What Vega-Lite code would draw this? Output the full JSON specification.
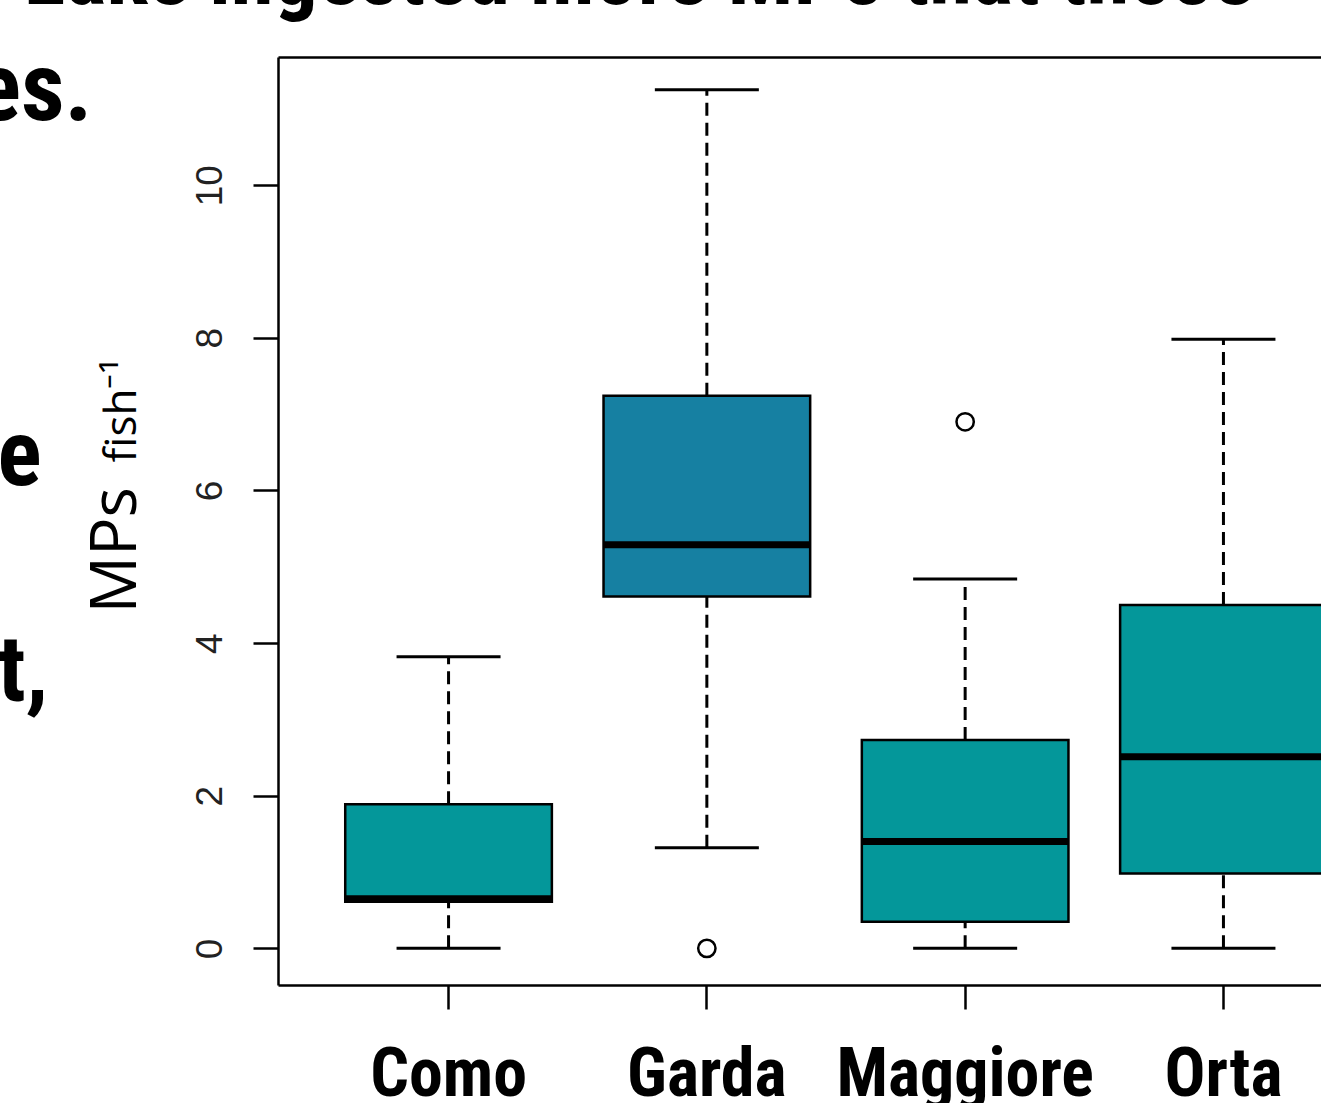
{
  "$schema": "https://vega.github.io/schema/vega-lite/v6.json",
  "autosize": {"type": "none"},
  "padding": {"left": 278, "top": 57, "right": 0, "bottom": 118},
  "width": 1043,
  "height": 928,
  "background": "white",
  "config": {"view": {"stroke": null}},
  "title": {
    "text": "r Lake ingested more MPs that those",
    "subtitle": "\u00a0es.",
    "anchor": "start",
    "frame": "group",
    "orient": "top",
    "offset": 0,
    "subtitlePadding": 22,
    "dx": -303,
    "dy": 83,
    "font": "Liberation Sans Narrow, Roboto Condensed, DejaVu Sans Condensed, Liberation Sans",
    "fontSize": 87,
    "fontWeight": "bold",
    "color": "black",
    "subtitleFont": "Liberation Sans Narrow, Roboto Condensed, DejaVu Sans Condensed, Liberation Sans",
    "subtitleFontSize": 96,
    "subtitleFontWeight": "bold",
    "subtitleColor": "black"
  },
  "datasets": {
    "boxes": [
      {"lake": "Como", "lo": 0, "q1": 0.61, "median": 0.65, "q3": 1.89, "hi": 3.82},
      {"lake": "Garda", "lo": 1.32, "q1": 4.61, "median": 5.29, "q3": 7.24, "hi": 11.25},
      {"lake": "Maggiore", "lo": 0, "q1": 0.35, "median": 1.4, "q3": 2.73, "hi": 4.84},
      {"lake": "Orta", "lo": 0, "q1": 0.98, "median": 2.51, "q3": 4.5, "hi": 7.98}
    ],
    "outliers": [
      {"lake": "Garda", "value": 0},
      {"lake": "Maggiore", "value": 6.9}
    ]
  },
  "layer": [
    {
      "data": {"name": "boxes"},
      "encoding": {
        "x": {
          "field": "lake",
          "type": "nominal",
          "scale": {"domain": ["Como", "Garda", "Maggiore", "Orta"], "range": [0, 1116], "paddingInner": 0.2, "paddingOuter": 0.2603},
          "axis": {
            "orient": "bottom",
            "title": ["e", "t,"],
            "titleFont": "Liberation Sans Narrow, Roboto Condensed, DejaVu Sans Condensed, Liberation Sans",
            "titleFontSize": 92,
            "titleFontWeight": "bold",
            "titleColor": "black",
            "titleX": -281,
            "titleY": -501,
            "titleAlign": "left",
            "titleAngle": 0,
            "titleBaseline": "alphabetic",
            "titleLineHeight": 216,
            "labelAngle": 0,
            "labelFont": "Liberation Sans Narrow, Roboto Condensed, DejaVu Sans Condensed, Liberation Sans",
            "labelFontSize": 68,
            "labelFontWeight": "bold",
            "labelColor": "black",
            "labelBaseline": "alphabetic",
            "labelPadding": 86,
            "labelLimit": 0,
            "labelOverlap": false,
            "tickSize": 24,
            "tickWidth": 2.5,
            "tickColor": "black",
            "domainColor": "black",
            "domainWidth": 2.5,
            "grid": false
          }
        }
      },
      "layer": [
        {
          "mark": {"type": "rule", "strokeDash": [13, 7], "strokeWidth": 3, "color": "black"},
          "encoding": {
            "y": {
              "field": "lo",
              "type": "quantitative",
              "scale": {"domain": [-0.48, 11.68], "nice": false, "zero": false},
              "axis": {
                "orient": "left",
                "title": "MPs",
                "titleFont": "Open Sans",
                "titleFontSize": 64,
                "titleFontWeight": "normal",
                "titleColor": "black",
                "titleAngle": -90,
                "titleX": -143,
                "titleY": 556,
                "titleAlign": "left",
                "titleBaseline": "alphabetic",
                "values": [0, 2, 4, 6, 8, 10],
                "format": "d",
                "labelAngle": -90,
                "labelAlign": "center",
                "labelBaseline": "alphabetic",
                "labelFont": "Liberation Sans",
                "labelFontSize": 37,
                "labelColor": "#222222",
                "labelPadding": 32,
                "tickSize": 25,
                "tickWidth": 2.5,
                "tickColor": "black",
                "domainColor": "black",
                "domainWidth": 2.5,
                "grid": false
              }
            },
            "y2": {"field": "q1"}
          }
        },
        {
          "mark": {"type": "rule", "strokeDash": [13, 7], "strokeWidth": 3, "color": "black"},
          "encoding": {
            "y": {"field": "q3", "type": "quantitative"},
            "y2": {"field": "hi"}
          }
        },
        {
          "mark": {"type": "bar", "stroke": "black", "strokeWidth": 2.5, "clip": true},
          "encoding": {
            "y": {"field": "q1", "type": "quantitative"},
            "y2": {"field": "q3"},
            "color": {
              "field": "lake",
              "type": "nominal",
              "scale": {"domain": ["Como", "Garda", "Maggiore", "Orta"], "range": ["#04979a", "#1680a2", "#04979a", "#04979a"]},
              "legend": null
            }
          }
        },
        {
          "mark": {"type": "tick", "thickness": 7, "size": 207, "color": "black", "opacity": 1, "clip": true},
          "encoding": {"y": {"field": "median", "type": "quantitative"}}
        },
        {
          "mark": {"type": "tick", "thickness": 3, "size": 104, "color": "black", "opacity": 1},
          "encoding": {"y": {"field": "lo", "type": "quantitative"}}
        },
        {
          "mark": {"type": "tick", "thickness": 3, "size": 104, "color": "black", "opacity": 1},
          "encoding": {"y": {"field": "hi", "type": "quantitative"}}
        },
        {
          "data": {"name": "outliers"},
          "mark": {"type": "point", "shape": "circle", "size": 300, "filled": false, "stroke": "black", "strokeWidth": 2.5, "opacity": 1},
          "encoding": {
            "y": {"field": "value", "type": "quantitative"}
          }
        }
      ]
    },
    {
      "data": {"name": "boxes"},
      "mark": {"type": "rule", "opacity": 0, "strokeWidth": 0},
      "encoding": {
        "x": {
          "field": "lake",
          "type": "nominal",
          "scale": {"domain": ["Como", "Garda", "Maggiore", "Orta"], "range": [0, 1116], "paddingInner": 0.2, "paddingOuter": 0.2603},
          "axis": {
            "orient": "top",
            "labels": false,
            "ticks": false,
            "grid": false,
            "domain": true,
            "domainColor": "black",
            "domainWidth": 2.5,
            "title": "fish\u207b\u00b9",
            "titleFont": "Open Sans",
            "titleFontSize": 44,
            "titleFontWeight": "normal",
            "titleColor": "black",
            "titleAngle": -90,
            "titleX": -143,
            "titleY": 405,
            "titleAlign": "left",
            "titleBaseline": "alphabetic"
          }
        }
      }
    }
  ],
  "resolve": {"axis": {"x": "independent"}}
}
